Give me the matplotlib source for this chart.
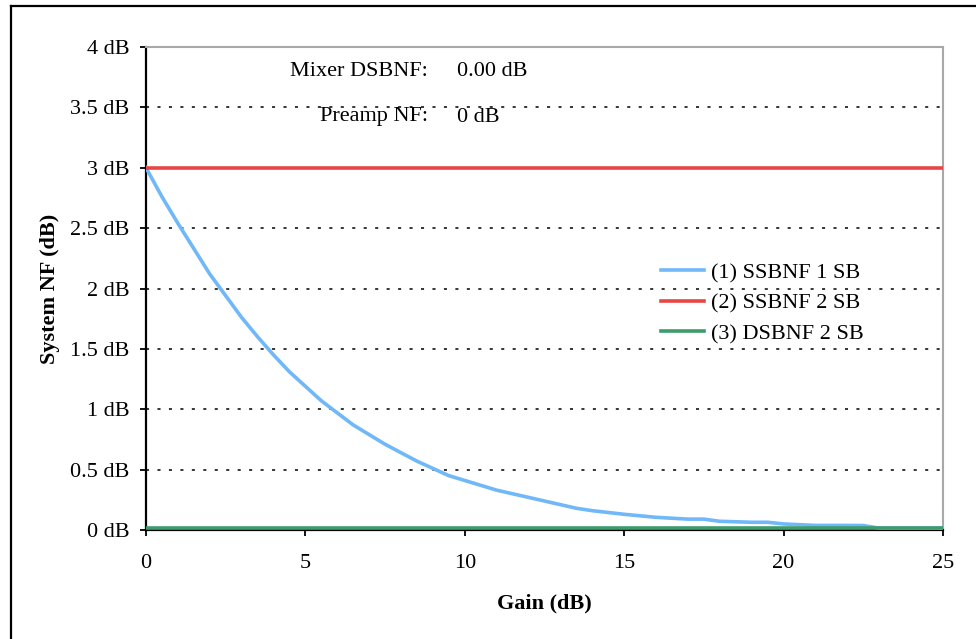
import matplotlib
matplotlib.use("Agg")
import matplotlib.pyplot as plt
from matplotlib.lines import Line2D

# --- Daten ---
gain_db = [0, 0.5, 1, 1.5, 2, 2.5, 3, 3.5, 4, 4.5, 5, 5.5, 6, 6.5, 7, 7.5, 8, 8.5,
           9, 9.5, 10, 10.5, 11, 12, 13, 13.5, 14, 15, 16, 17, 17.5, 18, 19, 19.5,
           20, 21, 22, 22.5, 23, 24, 25]
ssbnf_1sb = [3.00, 2.76, 2.54, 2.33, 2.12, 1.94, 1.76, 1.60, 1.45, 1.31, 1.19, 1.07,
             0.97, 0.87, 0.79, 0.71, 0.64, 0.57, 0.51, 0.45, 0.41, 0.37, 0.33, 0.27,
             0.21, 0.18, 0.16, 0.13, 0.105, 0.09, 0.09, 0.072, 0.064, 0.064, 0.05,
             0.038, 0.038, 0.037, 0.015, 0.015, 0.015]
ssbnf_2sb = [3.0] * len(gain_db)
dsbnf_2sb = [0.015] * len(gain_db)

labels = ["(1) SSBNF 1 SB", "(2) SSBNF 2 SB", "(3) DSBNF 2 SB"]
colors = ["#70b8f8", "#e84545", "#3c9c6c"]
yticks = [0, 0.5, 1, 1.5, 2, 2.5, 3, 3.5, 4]
ytick_labels = ["0 dB", "0.5 dB", "1 dB", "1.5 dB", "2 dB", "2.5 dB", "3 dB", "3.5 dB", "4 dB"]
xticks = [0, 5, 10, 15, 20, 25]

plt.rcParams["font.family"] = ["Liberation Serif", "DejaVu Serif"]
FS = 16
H = 639

fig = plt.figure(figsize=(9.76, 6.39), dpi=100)
ax = fig.add_axes([146 / 976, 1 - 530 / H, (943 - 146) / 976, (530 - 47) / H])

# Rahmen um die Abbildung (nur links und oben sichtbar)
fig.add_artist(Line2D([11 / 976, 11 / 976], [0, 1 - 6 / H], transform=fig.transFigure,
                      color="black", lw=1.6))
fig.add_artist(Line2D([11 / 976, 1], [1 - 6 / H, 1 - 6 / H], transform=fig.transFigure,
                      color="black", lw=1.6))

# Gitterlinien
for y in yticks[1:-1]:
    ax.axhline(y, color="black", lw=1.1, linestyle=(0, (2, 5.5)), zorder=1)

ax.plot(gain_db, ssbnf_1sb, color=colors[0], lw=2.6, label=labels[0], zorder=3)
ax.plot(gain_db, ssbnf_2sb, color=colors[1], lw=2.6, label=labels[1], zorder=3)
ax.plot(gain_db, dsbnf_2sb, color=colors[2], lw=2.6, label=labels[2], zorder=3)

ax.set_xlim(0, 25)
ax.set_ylim(0, 4)
ax.set_xticks(xticks)
ax.set_yticks(yticks)
ax.set_yticklabels(ytick_labels)
ax.tick_params(axis="both", direction="out", length=4, width=1.3, labelsize=FS, color="black")
ax.tick_params(axis="y", pad=8)
ax.tick_params(axis="x", pad=13)

ax.spines["left"].set_color("black")
ax.spines["left"].set_linewidth(1.6)
ax.spines["bottom"].set_color("black")
ax.spines["bottom"].set_linewidth(1.6)
ax.spines["top"].set_color("#a8a8a8")
ax.spines["top"].set_linewidth(1.5)
ax.spines["right"].set_color("#a8a8a8")
ax.spines["right"].set_linewidth(1.5)

ax.set_xlabel("Gain (dB)", fontsize=FS, fontweight="bold", labelpad=15)
ax.set_ylabel("System NF (dB)", fontsize=FS, fontweight="bold", labelpad=7)

# Parameter-Text (Pixelkoordinaten, y von unten)
ax.text(428, H - 72, "Mixer DSBNF:", transform=None, fontsize=FS, ha="right", va="center")
ax.text(457, H - 72, "0.00 dB", transform=None, fontsize=FS, ha="left", va="center")
ax.text(428, H - 117, "Preamp NF:", transform=None, fontsize=FS, ha="right", va="center")
ax.text(457, H - 117, "0 dB", transform=None, fontsize=FS, ha="left", va="center")

ax.legend(loc="upper left", bbox_to_anchor=((645 - 146) / 797, 1 - (247 - 47) / 483),
          frameon=False, fontsize=FS, handlelength=1.95, handletextpad=0.3,
          labelspacing=0.45, borderpad=0.2)

fig.savefig("out.png", dpi=100)
